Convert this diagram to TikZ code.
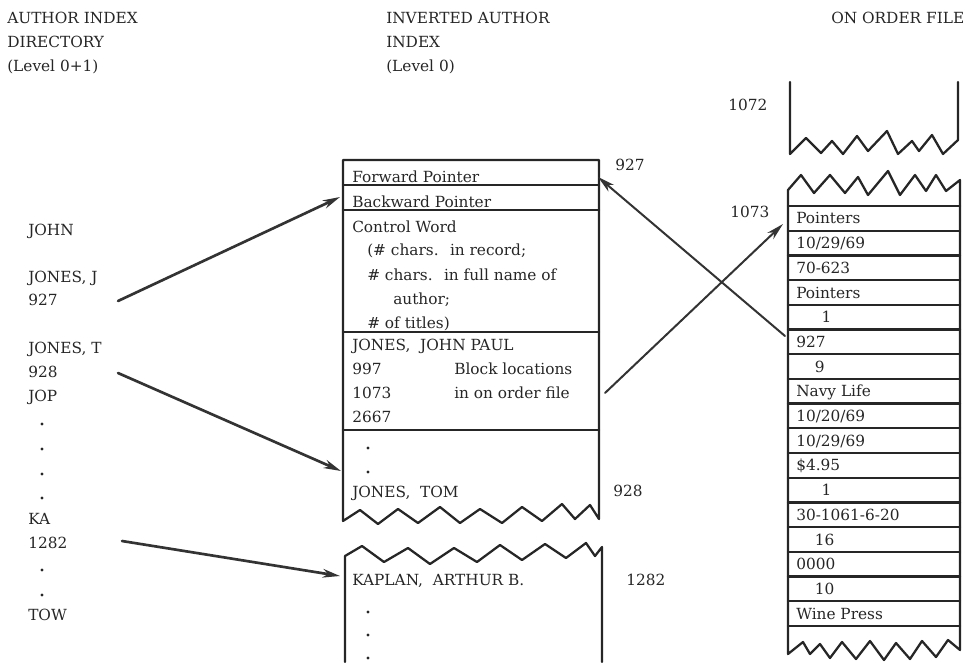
\documentclass[tikz,border=0pt]{standalone}
\usepackage{fontspec}
\setmainfont{DejaVu Serif}
\usetikzlibrary{arrows.meta}
\tikzset{
  lbl/.style={anchor=west,inner sep=0pt,text height=8.4pt,text depth=0pt,font=\fontsize{11.5}{13}\selectfont,text=black!85},
  box/.style={line width=1.7pt,draw=black!85},
  ptr/.style={-{Stealth[length=13pt,width=6.5pt,inset=4pt]},line width=2pt,draw=black!80},
  thinptr/.style={ptr,line width=1.5pt}
}
\begin{document}
\begin{tikzpicture}[line join=round,line cap=round,x=0.75pt,y=-0.75pt]
		\useasboundingbox (0,0) rectangle (965,662);
		\node[lbl] (h1) at (7,18) {AUTHOR INDEX};
		\node[lbl] (h2) at (7,42) {DIRECTORY};
		\node[lbl] (h3) at (7,66) {(Level 0+1)};
		\node[lbl] (h4) at (386,18) {INVERTED AUTHOR};
		\node[lbl] (h5) at (386,42) {INDEX};
		\node[lbl] (h6) at (386,66) {(Level 0)};
		\node[lbl] (h7) at (831,18) {ON ORDER FILE};
		\foreach \t/\y/\n in {JOHN/230/john,{JONES, J}/277/jj,927/300/a927,{JONES, T}/348/jt,928/372/a928,JOP/396/jop,KA/519/ka,1282/543/a1282,TOW/615/tow}
			\node[lbl] (\n) at (28,\y) {\t};
		\foreach \y in {424,449,474,498,570,595} \fill[black!85] (42,\y) circle (1.6);
		\draw[box] (599,160) -- (343,160) -- (343,521) -- (360,510) -- (378,524) -- (398,509) -- (418,523) -- (440,507) -- (460,523) -- (480,509) -- (502,523) -- (522,507) -- (542,521) -- (562,504) -- (575,519) -- (590,505) -- (599,519) -- cycle;
		\foreach \y in {185,210,332,430} \draw[box] (343,\y) -- (599,\y);
		\draw[box] (345,662) -- (345,556) -- (362,546) -- (384,562) -- (408,548) -- (430,564) -- (454,548) -- (477,562) -- (500,545) -- (522,560) -- (545,544) -- (566,558) -- (586,543) -- (595,556) -- (602,547) -- (602,662);
		\node[lbl] (fp) at (352,177) {Forward Pointer};
		\node[lbl] (bp) at (352,202) {Backward Pointer};
		\node[lbl] (cw) at (352,227) {Control Word};
		\node[lbl] (cw1) at (367,250) {(\# chars.~ in record;};
		\node[lbl] (cw2) at (367,275) {\# chars.~ in full name of};
		\node[lbl] (cw3) at (393,299) {author;};
		\node[lbl] (cw4) at (367,323) {\# of titles)};
		\node[lbl] (jp) at (352,345) {JONES,~ JOHN PAUL};
		\node[lbl] (b1) at (352,369) {997};
		\node[lbl] (b2) at (352,393) {1073};
		\node[lbl] (b3) at (352,417) {2667};
		\node[lbl] (bl1) at (454,369) {Block locations};
		\node[lbl] (bl2) at (454,393) {in on order file};
		\node[lbl] (tom) at (352,492) {JONES,~ TOM};
		\node[lbl] (kap) at (352,580) {KAPLAN,~ ARTHUR B.};
		\foreach \y in {448,472,612,635,658} \fill[black!85] (368,\y) circle (1.6);
		\node[lbl] (l927) at (615,165) {927};
		\node[lbl] (l928) at (613,491) {928};
		\node[lbl] (l1282) at (626,580) {1282};
		\draw[box] (790,82) -- (790,154) -- (806,138) -- (821,153) -- (832,141) -- (843,154) -- (857,136) -- (868,151) -- (887,131) -- (898,154) -- (912,141) -- (919,151) -- (932,135) -- (943,154) -- (958,140) -- (958,82);
		\draw[box] (788,190) -- (801,175) -- (814,193) -- (830,175) -- (845,193) -- (858,177) -- (868,195) -- (888,171) -- (900,195) -- (915,175) -- (926,191) -- (936,175) -- (946,191) -- (960,180) -- (960,650) -- (948,640) -- (936,657) -- (922,641) -- (910,659) -- (896,643) -- (884,660) -- (870,641) -- (856,659) -- (842,642) -- (830,658) -- (820,644) -- (810,654) -- (803,642) -- (788,654) -- cycle;
		\foreach \k in {0,...,17} \draw[box] (788,{206+24.7*\k}) -- (960,{206+24.7*\k});
		\foreach \t [count=\k from 0] in {Pointers,10/29/69,70-623,Pointers,{\hspace*{19pt}1},927,{\hspace*{14pt}9},Navy Life,10/20/69,10/29/69,\$4.95,{\hspace*{19pt}1},30-1061-6-20,{\hspace*{14pt}16},0000,{\hspace*{14pt}10},Wine Press}
			\node[lbl] (r\k) at (796,{218.35+24.7*\k}) {\t};
		\node[lbl] (l1072) at (728,105) {1072};
		\node[lbl] (l1073) at (730,212) {1073};
		\coordinate (s1) at (118,301);
		\coordinate (s2) at (118,373);
		\coordinate (s3) at (122,541);
		\coordinate (s4) at (605,393);
		\coordinate (s5) at (785,336);
		\coordinate (e1) at (340,197);
		\coordinate (e2) at (341,471);
		\coordinate (e3) at (340,576);
		\coordinate (e4) at (783,224);
		\coordinate (e5) at (598,177);
		\foreach \i in {1,2,3} \draw[ptr] (s\i) -- (e\i);
		\foreach \i in {4,5} \draw[thinptr] (s\i) -- (e\i);
	\end{tikzpicture}
\end{document}
